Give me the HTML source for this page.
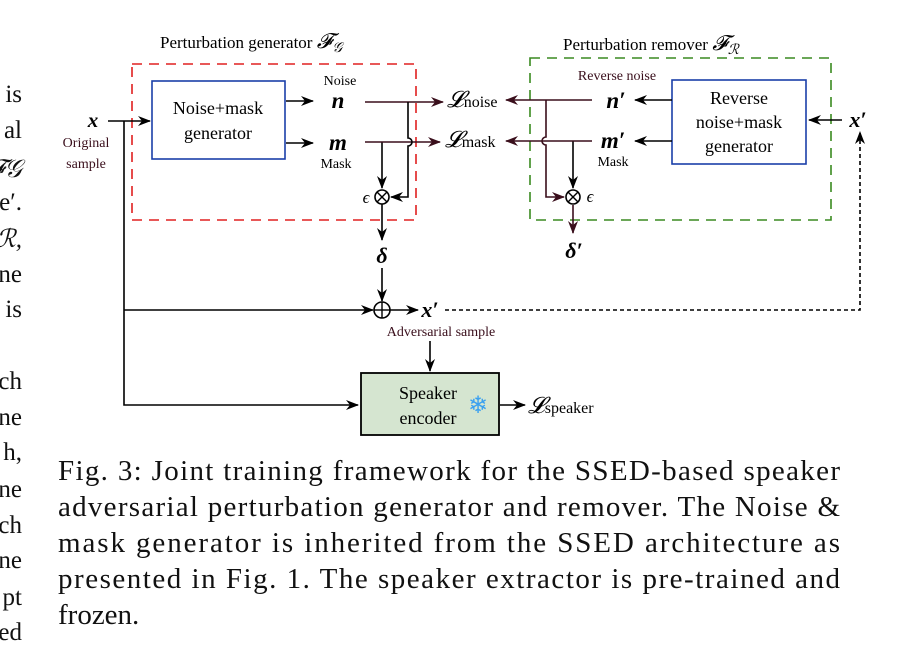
<!DOCTYPE html>
<html><head><meta charset="utf-8"><style>
html,body{margin:0;padding:0;background:#fff;}
svg{display:block;}
text{font-family:"Liberation Serif",serif;}
</style></head><body>
<svg width="921" height="663" viewBox="0 0 921 663" xmlns="http://www.w3.org/2000/svg">
<defs>
<marker id="ab" markerWidth="13" markerHeight="10" refX="12" refY="5" orient="auto" markerUnits="userSpaceOnUse"><path d="M0,0 L13,5 L0,10 L4,5 Z" fill="#000"/></marker>
<marker id="ar" markerWidth="13" markerHeight="10" refX="12" refY="5" orient="auto" markerUnits="userSpaceOnUse"><path d="M0,0 L13,5 L0,10 L4,5 Z" fill="#3a0f1c"/></marker>
</defs>
<g font-size="25" text-anchor="end" fill="#111">
<text x="22" y="102">is</text><text x="22" y="138">al</text><text x="22" y="177" font-style="italic">𝓕𝒢</text><text x="22" y="210">e′.</text><text x="22" y="247" font-style="italic">ℛ,</text><text x="22" y="282">ne</text><text x="22" y="317">is</text>
<text x="22" y="389">ch</text><text x="22" y="425">ne</text><text x="22" y="460">h,</text><text x="22" y="497">ne</text><text x="22" y="533">ch</text><text x="22" y="568">ne</text><text x="22" y="605">pt</text><text x="22" y="640">ed</text>
</g>
<text x="160" y="48" font-size="17">Perturbation generator <tspan font-style="italic" font-size="21">𝓕<tspan font-size="14" dy="4">𝒢</tspan></tspan></text>
<text x="563" y="50" font-size="17">Perturbation remover <tspan font-style="italic" font-size="21">𝓕<tspan font-size="14" dy="4">ℛ</tspan></tspan></text>
<rect x="132" y="64" width="284" height="156" fill="none" stroke="#e02020" stroke-width="1.6" stroke-dasharray="10,7"/>
<rect x="530" y="58" width="301" height="162" fill="none" stroke="#3a8a20" stroke-width="1.6" stroke-dasharray="10,7"/>
<rect x="152" y="81" width="133" height="78" fill="#fff" stroke="#1a3fa8" stroke-width="1.6"/>
<text x="218" y="114" font-size="18" text-anchor="middle">Noise+mask</text>
<text x="218" y="139" font-size="18" text-anchor="middle">generator</text>
<rect x="672" y="80" width="134" height="84" fill="#fff" stroke="#1a3fa8" stroke-width="1.6"/>
<text x="739" y="104" font-size="18" text-anchor="middle">Reverse</text>
<text x="739" y="128" font-size="18" text-anchor="middle">noise+mask</text>
<text x="739" y="152" font-size="18" text-anchor="middle">generator</text>
<text x="93" y="127" font-size="21" font-weight="bold" font-style="italic" text-anchor="middle">x</text>
<text x="86" y="147" font-size="14" fill="#3a0f1c" text-anchor="middle">Original</text>
<text x="86" y="168" font-size="14" fill="#3a0f1c" text-anchor="middle">sample</text>
<g stroke="#000" stroke-width="1.6" fill="none">
<line x1="108" y1="121" x2="150" y2="121" marker-end="url(#ab)"/>
<polyline points="124,121 124,405 358,405" marker-end="url(#ab)"/>
<line x1="124" y1="310" x2="373" y2="310" marker-end="url(#ab)"/>
<line x1="286" y1="101" x2="313" y2="101" marker-end="url(#ab)"/>
<line x1="286" y1="143" x2="313" y2="143" marker-end="url(#ab)"/>
<line x1="382" y1="142" x2="382" y2="188" marker-end="url(#ab)"/>
<line x1="382" y1="204" x2="382" y2="240" marker-end="url(#ab)"/>
<line x1="382" y1="268" x2="382" y2="301" marker-end="url(#ab)"/>
<line x1="390" y1="310" x2="418" y2="310" marker-end="url(#ab)"/>
<line x1="430" y1="341" x2="430" y2="371" marker-end="url(#ab)"/>
<line x1="500" y1="405" x2="525" y2="405" marker-end="url(#ab)"/>
<line x1="672" y1="100" x2="635" y2="100" marker-end="url(#ab)"/>
<line x1="672" y1="141" x2="635" y2="141" marker-end="url(#ab)"/>
<line x1="842" y1="120" x2="809" y2="120" marker-end="url(#ab)"/>
<line x1="573" y1="141" x2="573" y2="188" marker-end="url(#ab)"/>
<polyline points="445,310 860,310 860,132" stroke-dasharray="4,3" marker-end="url(#ab)"/>
</g>
<g stroke="#3a0f1c" stroke-width="1.6" fill="none">
<line x1="365" y1="102" x2="443" y2="102" marker-end="url(#ar)"/>
<line x1="365" y1="142" x2="440" y2="142" marker-end="url(#ar)"/>
<path d="M408,102 L408,138 A4,4 0 0 1 408,146 L408,197 L391,197" stroke="#000" marker-end="url(#ab)"/>
<line x1="592" y1="100" x2="506" y2="100" marker-end="url(#ar)"/>
<line x1="592" y1="141" x2="506" y2="141" marker-end="url(#ar)"/>
<path d="M546,100 L546,137 A4,4 0 0 0 546,145 L546,197 L564,197" marker-end="url(#ar)"/>
<line x1="573" y1="205" x2="573" y2="233" marker-end="url(#ar)"/>
</g>
<g stroke="#000" stroke-width="1.6" fill="#fff">
<circle cx="382" cy="197" r="7"/><circle cx="573" cy="197" r="7"/><circle cx="382" cy="310" r="8"/>
</g>
<g stroke="#000" stroke-width="1.4">
<line x1="377" y1="192" x2="387" y2="202"/><line x1="387" y1="192" x2="377" y2="202"/>
<line x1="568" y1="192" x2="578" y2="202"/><line x1="578" y1="192" x2="568" y2="202"/>
<line x1="374" y1="310" x2="390" y2="310"/><line x1="382" y1="302" x2="382" y2="318"/>
</g>
<text x="340" y="85" font-size="14" text-anchor="middle">Noise</text>
<text x="338" y="108" font-size="23" font-weight="bold" font-style="italic" text-anchor="middle">n</text>
<text x="338" y="150" font-size="23" font-weight="bold" font-style="italic" text-anchor="middle">m</text>
<text x="336" y="168" font-size="14" text-anchor="middle">Mask</text>
<text x="366" y="203" font-size="17" font-style="italic" text-anchor="middle">ϵ</text>
<text x="590" y="202" font-size="17" font-style="italic" text-anchor="middle">ϵ</text>
<text x="382" y="263" font-size="22" font-weight="bold" font-style="italic" text-anchor="middle">δ</text>
<text x="574" y="258" font-size="22" font-weight="bold" font-style="italic" text-anchor="middle">δ′</text>
<text x="430" y="317" font-size="22" font-weight="bold" font-style="italic" text-anchor="middle">x′</text>
<text x="441" y="336" font-size="14" fill="#3a0f1c" text-anchor="middle">Adversarial sample</text>
<text x="447" y="107" font-size="23" font-style="italic">𝓛<tspan font-size="16" font-style="normal">noise</tspan></text>
<text x="445" y="147" font-size="23" font-style="italic">𝓛<tspan font-size="16" font-style="normal">mask</tspan></text>
<text x="617" y="80" font-size="14" fill="#3a0f1c" text-anchor="middle">Reverse noise</text>
<text x="616" y="108" font-size="23" font-weight="bold" font-style="italic" text-anchor="middle">n′</text>
<text x="613" y="148" font-size="23" font-weight="bold" font-style="italic" text-anchor="middle">m′</text>
<text x="613" y="166" font-size="14" text-anchor="middle">Mask</text>
<text x="858" y="127" font-size="22" font-weight="bold" font-style="italic" text-anchor="middle">x′</text>
<rect x="361" y="373" width="138" height="62" fill="#d5e5d0" stroke="#000" stroke-width="1.8"/>
<text x="428" y="399" font-size="18" text-anchor="middle">Speaker</text>
<text x="428" y="424" font-size="18" text-anchor="middle">encoder</text>
<text x="478" y="413" font-size="24" fill="#3aa0f0" text-anchor="middle" font-family="DejaVu Sans">❄</text>
<text x="528" y="413" font-size="23" font-style="italic">𝓛<tspan font-size="16" font-style="normal">speaker</tspan></text>
<g font-size="29" fill="#111">
<text x="58" y="480" textLength="782" lengthAdjust="spacing">Fig. 3: Joint training framework for the SSED-based speaker</text>
<text x="58" y="516" textLength="782" lengthAdjust="spacing">adversarial perturbation generator and remover. The Noise &amp;</text>
<text x="58" y="552" textLength="782" lengthAdjust="spacing">mask generator is inherited from the SSED architecture as</text>
<text x="58" y="588" textLength="782" lengthAdjust="spacing">presented in Fig. 1. The speaker extractor is pre-trained and</text>
<text x="58" y="624">frozen.</text>
</g>
</svg>
</body></html>
